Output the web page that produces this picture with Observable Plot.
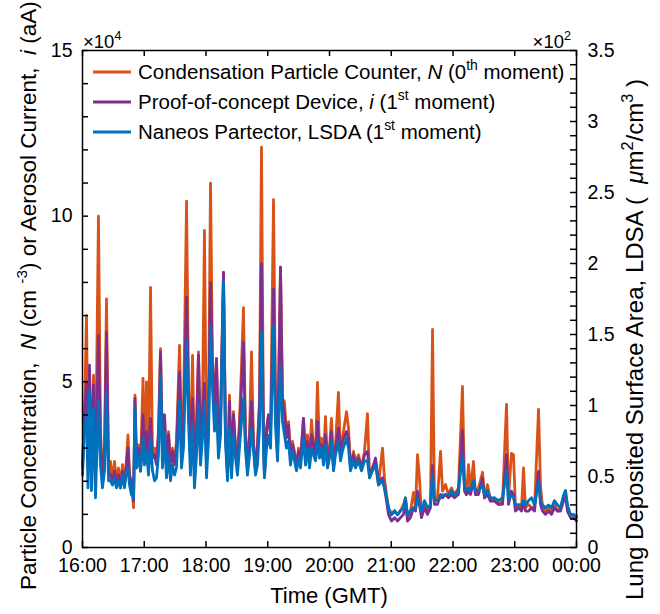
<!DOCTYPE html>
<html><head><meta charset="utf-8">
<script src="https://cdn.jsdelivr.net/npm/d3@7"></script>
<script src="https://cdn.jsdelivr.net/npm/@observablehq/plot@0.6"></script>
<style>
body{margin:0;background:#fff}
svg{font-family:"Liberation Sans",Arial,Helvetica,sans-serif}
</style>
</head><body><div id="chart"></div>
<script>
// time in minutes after 16:00 GMT
const minutes = [
0,1.9,3.9,5.3,6.8,8.7,10.7,12.6,15.5,17.5,
19.4,21.4,23.3,25.3,27.2,29.1,31.1,33.0,35.0,36.9,
38.9,40.8,42.8,44.2,45.7,47.6,49.6,51.0,52.5,54.4,
56.4,58.8,60.2,62.2,64.1,66.1,68.0,70.0,71.9,73.8,
75.8,77.7,79.7,81.6,83.6,85.5,87.4,89.4,91.3,94.3,
96.2,98.1,101.1,103.0,104.9,106.9,108.8,110.8,112.7,114.7,
116.6,118.5,120.5,122.4,124.4,126.3,128.3,130.2,132.1,134.1,
137.0,138.9,140.9,142.8,144.8,146.7,148.7,150.6,152.5,154.5,
156.4,158.4,160.3,162.3,164.2,166.2,168.1,170.0,172.0,173.9,
175.9,176.8,178.8,180.7,182.7,185.6,187.5,189.5,192.4,194.3,
196.3,198.2,200.2,202.1,204.0,206.0,207.9,209.9,211.8,214.7,
216.7,218.6,220.6,222.5,224.5,226.4,228.3,230.3,232.2,234.2,
236.1,238.1,240.0,241.9,243.9,245.8,248.7,250.7,252.6,256.5,
258.5,260.4,263.3,265.3,268.2,271.1,274.0,276.9,278.9,281.8,
284.7,287.6,291.5,293.4,295.4,297.3,300.2,303.2,306.1,309.0,
311.9,313.8,315.8,318.7,321.6,323.6,325.5,327.4,329.4,332.3,
335.2,338.1,340.1,342.0,344.9,347.9,349.8,352.7,355.6,358.5,
361.5,365.3,369.2,371.2,373.1,375.1,377.0,379.9,381.9,384.8,
388.7,390.6,393.5,396.4,400.3,404.2,408.1,412.0,413.9,416.8,
418.8,420.7,423.6,426.6,428.5,430.4,433.4,436.3,439.2,443.1,
445.0,447.0,449.9,452.8,455.7,458.6,461.5,464.4,467.4,469.3,
471.2,474.2,477.1,480.0
];
// Condensation Particle Counter, N (cm^-3)
const cpc = [
25000,40000,70000,30000,53000,25000,52000,22000,100000,35000,
22000,30000,75000,25000,26000,20000,26000,20000,24000,19000,
25000,19000,27000,34000,22000,20000,12000,46000,25000,31000,
25000,51000,28000,50000,28000,78500,28000,30000,27000,35000,
60000,30000,40000,24000,35000,25000,30000,26000,32000,61000,
32000,40000,104500,49000,28000,58000,24000,38000,59000,32000,
42000,95700,26000,40000,110000,55000,45000,57000,32000,40000,
83000,35000,22000,46000,23000,41000,30000,28000,38000,55000,
72400,34000,25000,35000,59000,32000,23000,31000,45000,120800,
34000,22000,36000,40000,34000,105000,45000,28000,84600,45000,
44000,34000,38000,27000,32000,29000,24000,30000,26000,39000,
27000,34000,26000,38500,30000,28000,49800,29000,33000,27000,
39500,25000,30000,39000,24000,31000,46800,28000,33000,41000,
36000,24000,29000,26000,28000,24000,29000,40400,21000,24000,
26000,19000,30000,21000,16000,12000,10000,11000,10000,11000,
13000,15000,9000,11000,16600,12000,28000,21000,10000,13000,
11000,13000,65800,14000,15000,29000,17000,19000,16000,18000,
16000,18000,48600,18000,16000,25000,17000,26000,16000,18000,
22700,15000,19000,14000,15000,13000,14000,43200,15000,28400,
28000,12000,13000,12000,24000,12000,13000,12000,12000,41700,
19000,12000,11000,12000,11000,13000,11000,12000,15000,17200,
12000,10000,10000,9000
];
// Proof-of-concept Device, i (aA)
const poc = [
24000,40000,50000,28000,55000,23000,49000,21000,64000,32000,
21000,28000,65000,23000,22000,20000,23000,19000,22000,18000,
23000,19000,25000,30000,21000,20000,14000,45000,25000,30000,
23000,40000,27000,35000,26000,39000,27000,28000,25000,33000,
59000,29000,40000,23000,34000,24000,29000,25000,30000,53000,
30000,36000,75500,46000,27000,45000,23000,35000,58000,30000,
40000,49500,25000,38000,80000,54000,42000,57000,30000,38000,
83000,34000,22000,44000,24000,40000,30000,26000,35000,48000,
62000,33000,24000,33000,44000,31000,23000,30000,43000,85700,
33000,22000,35000,40000,34000,78000,44000,28000,84600,44000,
40000,33000,37000,27000,31000,28000,24000,29000,26000,39000,
27000,32000,25000,34000,31000,27000,38000,29000,31000,26000,
34000,25000,29000,35000,24000,30000,36000,28000,32000,35000,
33000,24000,28000,25000,27000,24000,28000,29000,22000,24000,
27000,20000,21000,18000,14000,10000,8000,9000,8000,9000,
10000,14000,8000,9000,12000,11000,17000,13000,9000,12000,
10000,12000,24700,13000,13000,16000,15000,16000,15000,16000,
15000,16000,35300,17000,16000,17000,16000,20000,16000,16000,
21000,15000,16000,14000,14000,13000,13000,28000,13000,17000,
16000,11000,12000,11000,14000,11000,11000,12000,11000,23000,
13000,11000,10000,11000,10000,12000,11000,11000,14000,16000,
11000,9000,9000,8000
];
// Naneos Partector, LDSA (um^2/cm^3)
const ldsa = [
51,84,93,42,110,40,98,35,103,58,
42,54,110,47,47,44,49,42,47,42,
51,42,54,56,44,37,35,98,56,65,
54,77,58,68,51,77,54,47,49,65,
121,56,82,49,65,47,58,51,56,103,
56,70,146,89,51,86,42,65,100,58,
77,103,49,75,156,112,82,100,63,79,
187,75,47,84,49,79,63,51,70,89,
105,68,51,65,84,68,51,58,84,151,
68,49,70,79,70,156,86,61,128,89,
79,70,75,58,68,61,54,63,56,77,
58,70,56,70,65,61,75,63,70,58,
72,56,63,75,54,65,75,61,68,77,
70,54,61,56,61,54,61,61,49,54,
58,44,47,42,35,28,23,26,23,26,
28,35,23,26,28,28,35,30,26,33,
28,30,51,33,33,35,37,37,37,40,
37,40,65,42,40,42,40,47,40,40,
44,37,40,35,35,33,35,54,33,37,
35,30,30,30,33,30,33,35,30,47,
33,30,28,30,28,33,30,28,37,40,
30,23,23,22
];

const xTicks = [0,60,120,180,240,300,360,420,480];
const xTickLabels = ["16:00","17:00","18:00","19:00","20:00","21:00","22:00","23:00","00:00"];
const leftLabelTicks = [0,50000,100000,150000];
const rightLabelTicks = [0,50,100,150,200,250,300,350]; // um^2/cm^3
const seriesColors = ["#D95319","#7E2F8E","#0072BD"];

const leftMax = 150000, rightMax = 350;
const k = leftMax / rightMax; // right axis -> shared y scale

const rows = minutes.map((t, i) => ({t, cpc: cpc[i], poc: poc[i], ldsa: ldsa[i] * k}));
const leftMinor = d3.range(0, leftMax + 1, 10000);
const rightMinor = d3.range(0, rightMax + 1, 10).map(v => v * k);

const W = 660, H = 614, ML = 82, MR = 84, MT = 50, MB = 67;
const FW = W - ML - MR, FH = H - MT - MB, TL = 6;
const FS = 19.5;
const tickStyle = {stroke: "#000", strokeWidth: 1.5};
const plot = Plot.plot({
  width: W, height: H,
  marginLeft: ML, marginRight: MR, marginTop: MT, marginBottom: MB,
  style: {fontSize: FS + "px", fontFamily: '"Liberation Sans", Arial, sans-serif', color: "#000", background: "#fff"},
  x: {domain: [0, 480]},
  y: {domain: [0, leftMax]},
  marks: [
    Plot.line(rows, {x: "t", y: "cpc", stroke: seriesColors[0], strokeWidth: 2.8}),
    Plot.line(rows, {x: "t", y: "poc", stroke: seriesColors[1], strokeWidth: 2.8}),
    Plot.line(rows, {x: "t", y: "ldsa", stroke: seriesColors[2], strokeWidth: 2.8}),
    // inward ticks
    Plot.tickX(xTicks, {x: d => d, insetTop: FH - TL, ...tickStyle}),
    Plot.tickX(xTicks, {x: d => d, insetBottom: FH - TL, ...tickStyle}),
    Plot.tickY(leftMinor, {y: d => d, insetRight: FW - TL, ...tickStyle}),
    Plot.tickY(rightMinor, {y: d => d, insetLeft: FW - TL, ...tickStyle}),
    Plot.frame({stroke: "#000", strokeWidth: 1.5}),
    Plot.axisX({ticks: xTicks, anchor: "bottom", tickSize: 0, tickPadding: 11, fontSize: FS,
      tickFormat: d => xTickLabels[xTicks.indexOf(d)], label: null}),
    Plot.axisY({ticks: leftLabelTicks, anchor: "left", tickSize: 0, tickPadding: 10, fontSize: FS,
      tickFormat: d => String(d / 10000), label: null}),
    Plot.axisY({ticks: rightLabelTicks.map(v => v * k), anchor: "right", tickSize: 0, tickPadding: 11, fontSize: FS,
      tickFormat: d => String(Math.round(d / k) / 100), label: null})
  ]
});
document.getElementById("chart").appendChild(plot);

const svg = d3.select(plot);
const ff = '"Liberation Sans", Arial, sans-serif';

function rich(sel, parts, size) {
  parts.forEach(p => {
    const ts = sel.append("tspan").text(p.t);
    if (p.i) ts.attr("font-style", "italic");
    if (p.sup) ts.attr("font-size", size * 0.68).attr("dy", -size * 0.42);
    if (p.down) ts.attr("dy", size * 0.42);
  });
}
function txt(x, y, size, anchor, transform) {
  const t = svg.append("text").attr("font-size", size).attr("fill", "#000")
    .attr("font-family", ff).attr("text-anchor", anchor).style("white-space", "pre");
  if (transform) t.attr("transform", transform); else t.attr("x", x).attr("y", y);
  return t;
}

// exponent labels
rich(txt(83, 48, 18.5, "start"), [{t: "\u00d710"}, {t: "4", sup: true}], 18.5);
rich(txt(571, 48, 18.5, "end"), [{t: "\u00d710"}, {t: "2", sup: true}], 18.5);

// x title
txt(329, 603, 22, "middle").text("Time (GMT)");

// left y title
rich(txt(0, 0, 22.5, "start", "translate(36,590) rotate(-90)"),
  [{t: "Particle Concentration,  "}, {t: "N", i: true}, {t: " (cm "}, {t: "-3", sup: true},
   {t: ") or Aerosol Current,  ", down: true}, {t: "i", i: true}, {t: " (aA)"}], 22.5);

// right y title
rich(txt(0, 0, 24, "start", "translate(643,600) rotate(-90)"),
  [{t: "Lung Deposited Surface Area, LDSA (  "}, {t: "\u03bc", i: true}, {t: "m"}, {t: "2", sup: true},
   {t: "/cm", down: true}, {t: "3", sup: true}, {t: " )", down: true}], 24);

// legend
const legendEntries = [
  [{t: "Condensation Particle Counter, "}, {t: "N", i: true}, {t: " (0"}, {t: "th", sup: true}, {t: " moment)", down: true}],
  [{t: "Proof-of-concept Device, "}, {t: "i", i: true}, {t: " (1"}, {t: "st", sup: true}, {t: " moment)", down: true}],
  [{t: "Naneos Partector, LSDA (1"}, {t: "st", sup: true}, {t: " moment)", down: true}]
];
const LFS = 20.5;
legendEntries.forEach((parts, i) => {
  const y = 72 + i * 30;
  svg.append("line").attr("x1", 93).attr("x2", 131).attr("y1", y).attr("y2", y)
    .attr("stroke", seriesColors[i]).attr("stroke-width", 2.8);
  rich(txt(138, y + 7, LFS, "start"), parts, LFS);
});
</script>
</body></html>
